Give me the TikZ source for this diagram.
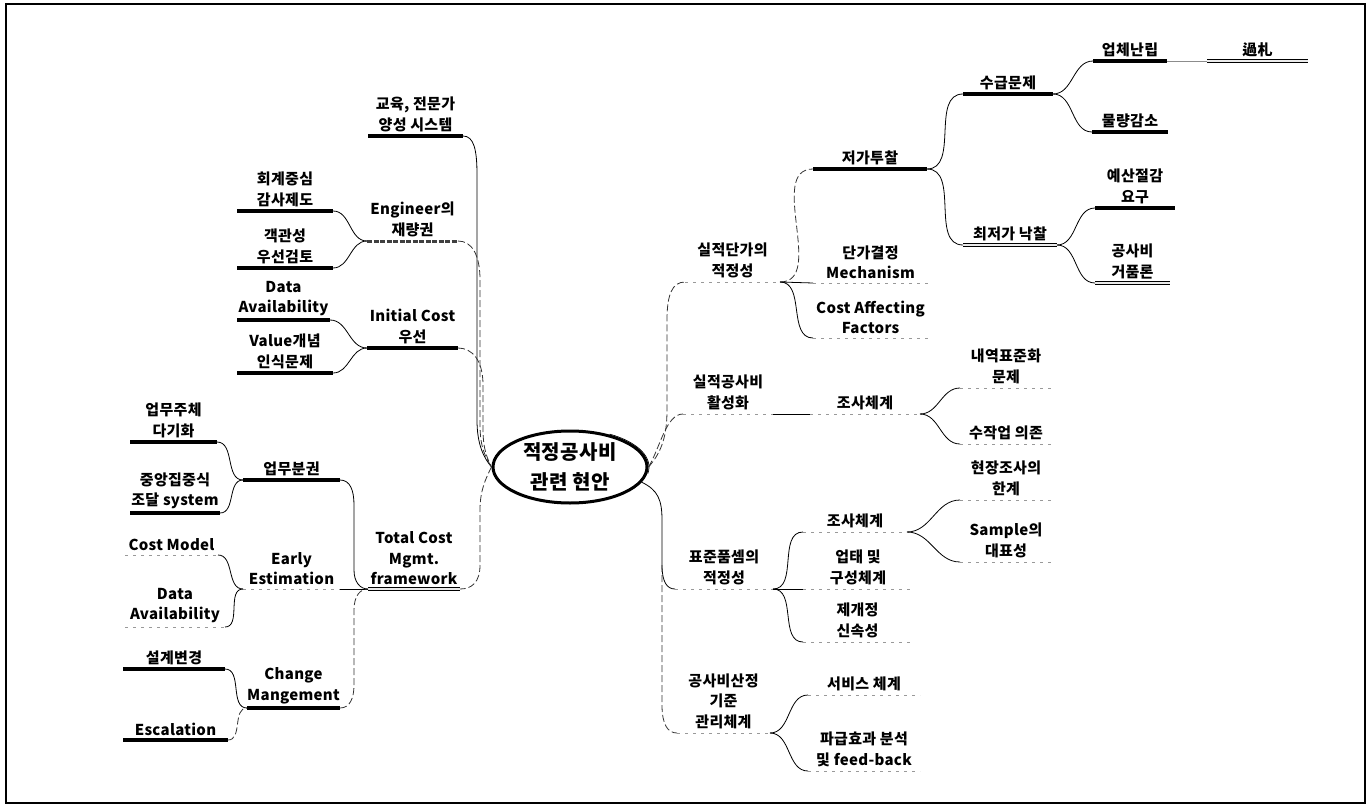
\documentclass[tikz,border=0pt]{standalone}
\usepackage{fontspec}
\setmainfont{Noto Sans CJK KR}[LetterSpace=2]
\usetikzlibrary{shapes.geometric,calc}
\tikzset{
  lbl/.style={font=\fontsize{15}{20.5}\selectfont\bfseries, align=center, inner sep=0pt, anchor=south},
  ulthick/.style={line width=3.6pt, black},
  uldash/.style={line width=3pt, black!75, dash pattern=on 5pt off 1.5pt},
  uldouble/.style={line width=0.7pt, draw=black, double=black!8, double distance=2.4pt},
  ulfaded/.style={line width=0.8pt, black!40, dash pattern=on 3pt off 5pt},
  conn/.style={line width=0.8pt, black},
  conndash/.style={line width=0.8pt, black!80, dash pattern=on 7pt off 3pt},
  connfaint/.style={line width=0.6pt, black!45},
}
\newcommand\topic[6]{%
  \coordinate (#1-l) at (#2,#4);
  \coordinate (#1-r) at (#3,#4);
  \draw[#5] (#1-l) -- (#1-r);
  \node[lbl] (#1) at ({(#2+#3)/2},{#4-4}) {#6};
}
\begin{document}
\begin{tikzpicture}[x=1pt,y=-1pt]
\useasboundingbox (0,0) rectangle (1372,805);
\draw[line width=1.2pt] (6,4) rectangle (1365,803);

% centre
\node[ellipse, draw, line width=3pt, minimum width=154pt, minimum height=72pt,
      font=\fontsize{20}{30}\selectfont\bfseries, align=center, inner sep=0pt] (c) at (570,467) {적정공사비\\관련 현안};
\draw[line width=0.7pt] (570,467) ++(10:79 and 38) arc (10:-60:79 and 38);

% ---------- left top ----------
\topic{edu}{368}{463}{136}{ulthick}{교육, 전문가\\양성 시스템}
\topic{eng}{367}{458}{241}{uldash}{Engineer의\\재량권}
\topic{rec}{237}{333}{211}{ulthick}{회계중심\\감사제도}
\topic{obj}{237}{333}{268}{ulthick}{객관성\\우선검토}
\topic{ini}{367}{458}{348}{ulthick}{Initial Cost\\우선}
\topic{da1}{237}{330}{320}{ulthick}{Data\\Availability}
\topic{val}{237}{333}{373}{ulthick}{Value개념\\인식문제}

\draw[conn] (rec-r) to[out=0,in=180] (eng-l);
\draw[conn] (obj-r) to[out=0,in=180] (eng-l);
\draw[conn] (da1-r) to[out=0,in=180] (ini-l);
\draw[conn] (val-r) to[out=0,in=180] (ini-l);

\draw[conn] (edu-r) .. controls (474,136) and (477,150) .. (477,175) -- (477,420)
   .. controls (477,445) and (484,458) .. (c.west);
\draw[conndash] (eng-r) .. controls (472,241) and (480,255) .. (480,280) -- (480,425)
   .. controls (480,448) and (486,458) .. (c.west);
\draw[conndash] (ini-r) .. controls (472,348) and (483,360) .. (483,385) -- (483,430)
   .. controls (483,450) and (488,460) .. (c.west);

% ---------- left bottom ----------
\topic{tc}{368}{460}{589}{uldouble}{Total Cost\\Mgmt.\\framework}
\topic{ubk}{243}{340}{480}{ulthick}{업무분권}
\topic{ee}{243}{340}{589}{ulfaded}{Early\\Estimation}
\topic{chg}{247}{340}{708}{ulthick}{Change\\Mangement}
\topic{um}{130}{217}{442}{ulthick}{업무주체\\다기화}
\topic{cen}{130}{220}{513}{ulthick}{중앙집중식\\조달 system}
\topic{cm}{125}{218}{555}{ulfaded}{Cost Model}
\topic{da2}{125}{225}{627}{ulfaded}{Data\\Availability}
\topic{sg}{123}{225}{669}{ulthick}{설계변경}
\topic{esc}{123}{228}{740}{ulthick}{Escalation}

\draw[conndash] (c.west) .. controls (486,478) and (480,490) .. (480,510) -- (480,565)
   .. controls (480,582) and (472,589) .. (tc-r);
\draw[conn] (ubk-r) .. controls (350,480) and (354,490) .. (354,505) -- (354,570)
   .. controls (354,582) and (360,589) .. (tc-l);
\draw[conn] (ee-r) -- (tc-l);
\draw[conndash] (chg-r) .. controls (350,708) and (354,698) .. (354,685) -- (354,610)
   .. controls (354,596) and (360,589) .. (tc-l);
\draw[conn] (um-r) to[out=0,in=180] (ubk-l);
\draw[conn] (cen-r) to[out=0,in=180] (ubk-l);
\draw[conn] (cm-r) to[out=0,in=180] (ee-l);
\draw[conn] (da2-r) to[out=0,in=180] (ee-l);
\draw[conn] (sg-r) to[out=0,in=180] (chg-l);
\draw[conndash] (esc-r) to[out=0,in=180] (chg-l);

% ---------- right ----------
\topic{sil1}{685}{780}{282}{ulfaded}{실적단가의\\적정성}
\topic{sil2}{683}{773}{414}{ulfaded}{실적공사비\\활성화}
\topic{pyo}{675}{773}{589}{ulfaded}{표준품셈의\\적정성}
\topic{gong}{677}{770}{733}{ulfaded}{공사비산정\\기준\\관리체계}

\draw[conndash] (c.east) .. controls (662,452) and (667,435) .. (667,410) -- (667,320)
   .. controls (667,295) and (672,282) .. (sil1-l);
\draw[conndash] (c.east) .. controls (660,448) and (666,414) .. (sil2-l);
\draw[conn] (c.-12) .. controls (658,490) and (662,500) .. (662,520) -- (662,565)
   .. controls (662,582) and (667,589) .. (pyo-l);
\draw[conndash] (662,565) -- (662,705) .. controls (662,725) and (668,733) .. (gong-l);

\topic{jeo}{813}{927}{169}{ulthick}{저가투찰}
\topic{dan}{813}{928}{283}{ulfaded}{단가결정\\Mechanism}
\topic{caf}{813}{928}{338}{ulfaded}{Cost Affecting\\Factors}
\draw[conndash] (sil1-r) to[out=0,in=180] (jeo-l);
\draw[conn] (sil1-r) -- (dan-l);
\draw[conn] (sil1-r) to[out=0,in=180] (caf-l);

\topic{sug}{963}{1053}{94}{ulthick}{수급문제}
\topic{choi}{963}{1057}{245}{uldouble}{최저가 낙찰}
\draw[conn] (jeo-r) to[out=0,in=180] (sug-l);
\draw[conn] (jeo-r) to[out=0,in=180] (choi-l);

\topic{up}{1093}{1167}{61}{ulthick}{업체난립}
\topic{mul}{1092}{1168}{132}{ulthick}{물량감소}
\draw[conn] (sug-r) to[out=0,in=180] (up-l);
\draw[conn] (sug-r) to[out=0,in=180] (mul-l);
\topic{gwa}{1207}{1308}{61}{uldouble}{過札}
\draw[connfaint] (up-r) -- (gwa-l);

\topic{ye}{1095}{1175}{208}{ulthick}{예산절감\\요구}
\topic{geo}{1095}{1170}{283}{uldouble}{공사비\\거품론}
\draw[conn] (choi-r) to[out=0,in=180] (ye-l);
\draw[conn] (choi-r) to[out=0,in=180] (geo-l);

\topic{jo1}{810}{920}{414}{ulfaded}{조사체계}
\draw[conn] (sil2-r) -- (jo1-l);
\topic{nae}{960}{1052}{388}{ulfaded}{내역표준화\\문제}
\topic{su}{960}{1052}{444}{ulfaded}{수작업 의존}
\draw[conn] (jo1-r) to[out=0,in=180] (nae-l);
\draw[conn] (jo1-r) to[out=0,in=180] (su-l);

\topic{jo2}{803}{907}{532}{ulfaded}{조사체계}
\topic{ut}{803}{913}{589}{ulfaded}{업태 및\\구성체계}
\topic{je}{803}{912}{642}{ulfaded}{제개정\\신속성}
\draw[conn] (pyo-r) to[out=0,in=180] (jo2-l);
\draw[conn] (pyo-r) -- (ut-l);
\draw[conn] (pyo-r) to[out=0,in=180] (je-l);

\topic{hy}{960}{1052}{500}{ulfaded}{현장조사의\\한계}
\topic{sam}{960}{1052}{562}{ulfaded}{Sample의\\대표성}
\draw[conn] (jo2-r) to[out=0,in=180] (hy-l);
\draw[conn] (jo2-r) to[out=0,in=180] (sam-l);

\topic{ser}{808}{920}{695}{ulfaded}{서비스 체계}
\topic{pa}{808}{920}{771}{ulfaded}{파급효과 분석\\및 feed-back}
\draw[conn] (gong-r) to[out=0,in=180] (ser-l);
\draw[conn] (gong-r) to[out=0,in=180] (pa-l);
\end{tikzpicture}
\end{document}
